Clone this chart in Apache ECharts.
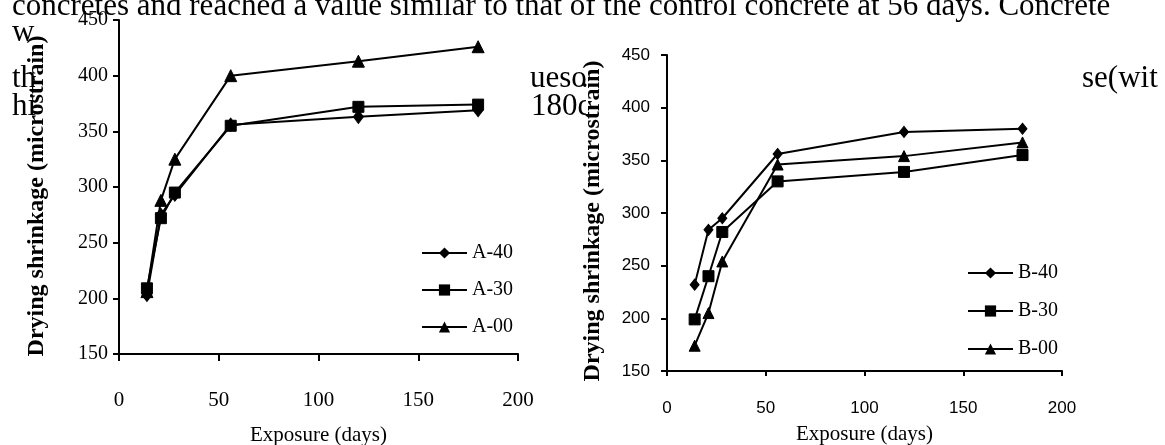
<!DOCTYPE html>
<html>
<head>
<meta charset="utf-8">
<script src="https://cdn.jsdelivr.net/npm/echarts@6/dist/echarts.min.js"></script>
<style>
  html, body { margin: 0; padding: 0; background: #fff; }
  #chart { width: 1165px; height: 445px; }
</style>
</head>
<body>
<div id="chart"></div>
<script>
// exposure days (shared by both panels)
const days = [14, 21, 28, 56, 120, 180]

// panel A
const a40 = [203, 275, 293, 356, 363, 369]
const a30 = [209, 272, 295, 355, 372, 374]
const a00 = [206, 288, 325, 400, 413, 426]

// panel B
const b40 = [232, 284, 295, 356, 377, 380]
const b30 = [199, 240, 282, 330, 339, 355]
const b00 = [174, 205, 254, 346, 354, 367]

const namesA = ['A-40', 'A-30', 'A-00']
const namesB = ['B-40', 'B-30', 'B-00']

// bits of the surrounding page text that show round the figures
const pageText = [
  { text: 'concretes and reached a value similar to that of the control concrete at 56 days. Concrete', x: 12, y: 17 },
  { text: 'w', x: 12, y: 43 },
  { text: 'th', x: 12, y: 89 },
  { text: 'hi', x: 12, y: 117 },
  { text: 'ueso', x: 530, y: 89 },
  { text: '180d', x: 531, y: 117 },
  { text: 'se(wit', x: 1082, y: 89 }
]

const serif = "'Liberation Serif', 'Times New Roman', serif"
const sans = "'Liberation Sans', Arial, sans-serif"
const black = '#000'

const toPairs = (vals) => days.map((d, i) => [d, vals[i]])

const lineSeries = (name, vals, symbol, size, idx) => ({
  name,
  type: 'line',
  xAxisIndex: idx,
  yAxisIndex: idx,
  data: toPairs(vals),
  symbol,
  symbolSize: size,
  showSymbol: true,
  lineStyle: { color: black, width: 2 },
  itemStyle: { color: black, borderColor: black },
  emphasis: { disabled: true },
  animation: false
})

const xAxisBase = (idx, labelFont, labelSize, margin, nameGap, tickLen) => ({
  gridIndex: idx,
  type: 'value',
  min: 0,
  max: 200,
  interval: 50,
  name: 'Exposure (days)',
  nameLocation: 'middle',
  nameGap,
  nameTextStyle: { fontFamily: serif, fontSize: 21, color: black },
  axisLine: { onZero: false, lineStyle: { color: black, width: 2 } },
  axisTick: { show: true, length: tickLen, lineStyle: { color: black, width: 2 } },
  axisLabel: { fontFamily: labelFont, fontSize: labelSize, color: black, margin },
  splitLine: { show: false }
})

const yAxisBase = (idx, labelFont, labelSize, margin, nameGap, namePad) => ({
  gridIndex: idx,
  type: 'value',
  min: 150,
  max: 450,
  interval: 50,
  name: 'Drying shrinkage (microstrain)',
  nameLocation: 'middle',
  nameGap,
  nameTextStyle: { fontFamily: serif, fontSize: 24, fontWeight: 'bold', color: black, padding: namePad },
  axisLine: { show: true, onZero: false, lineStyle: { color: black, width: 2 } },
  axisTick: { show: true, length: 6, lineStyle: { color: black, width: 2 } },
  axisLabel: { fontFamily: labelFont, fontSize: labelSize, color: black, margin },
  splitLine: { show: false }
})

const legendBase = (names, left, top, gap) => ({
  data: names,
  orient: 'vertical',
  left,
  top,
  itemWidth: 45,
  itemHeight: 14,
  itemGap: gap,
  textStyle: { fontFamily: serif, fontSize: 20, color: black },
  selectedMode: false
})

const chart = echarts.init(document.getElementById('chart'))

// white patches stand in for the figure images that hide the page text
const patches = [
  { x: 35, y: 18, width: 492, height: 427 },
  { x: 586, y: 30, width: 494, height: 415 }
]

const option = {
  backgroundColor: '#fff',
  animation: false,
  grid: [
    { left: 119, top: 20, width: 399, height: 334, outerBoundsMode: 'none' },
    { left: 667, top: 55, width: 395, height: 316, outerBoundsMode: 'none' }
  ],
  xAxis: [
    xAxisBase(0, serif, 21, 36, 71, 7),
    xAxisBase(1, sans, 17, 29, 53, 5)
  ],
  yAxis: [
    yAxisBase(0, serif, 20, 11, 70, [0, 18, 0, 0]),
    yAxisBase(1, sans, 17, 17, 62, [0, 16, 0, 0])
  ],
  legend: [
    legendBase(namesA, 416, 238, 17),
    legendBase(namesB, 962, 258, 18)
  ],
  series: [
    lineSeries('A-40', a40, 'diamond', [10, 13], 0),
    lineSeries('A-30', a30, 'rect', 11, 0),
    lineSeries('A-00', a00, 'triangle', 12, 0),
    lineSeries('B-40', b40, 'diamond', [9, 11], 1),
    lineSeries('B-30', b30, 'rect', 11, 1),
    lineSeries('B-00', b00, 'triangle', 11, 1)
  ],
  graphic: [
    ...pageText.map(t => ({
      type: 'text',
      x: t.x,
      y: t.y - 10,
      z: -2,
      silent: true,
      style: {
        text: t.text,
        font: "31px 'Liberation Serif', 'Times New Roman', serif",
        fill: black,
        verticalAlign: 'middle'
      }
    })),
    ...patches.map(p => ({
      type: 'rect',
      z: -1,
      silent: true,
      shape: p,
      style: { fill: '#fff' }
    }))
  ]
}

chart.setOption(option)
</script>
</body>
</html>
